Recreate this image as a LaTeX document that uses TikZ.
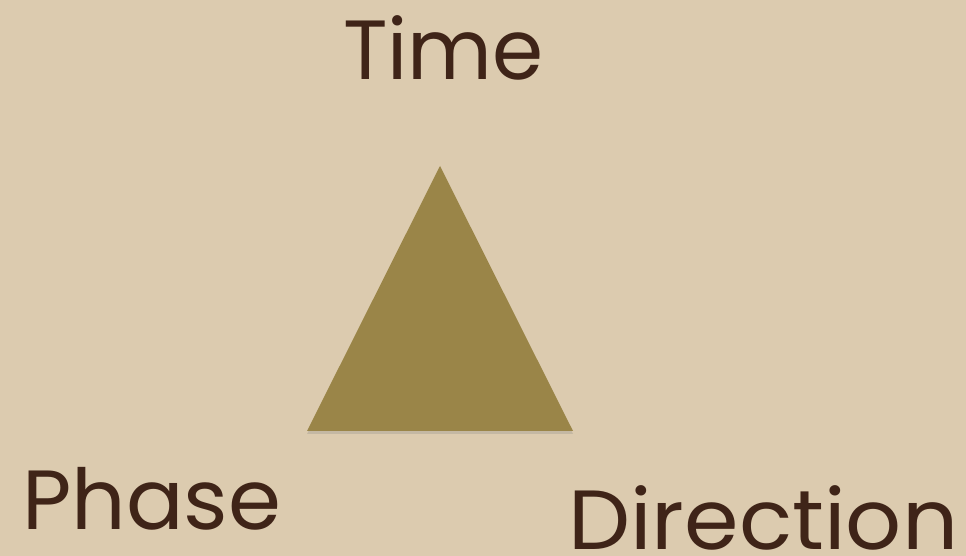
\documentclass[tikz,border=0pt]{standalone}
\usepackage{fontspec}
\setmainfont{Poppins}
\usetikzlibrary{shadows}
\definecolor{parch}{HTML}{DCCBAF}
\definecolor{olive}{HTML}{9A8548}
\definecolor{ink}{HTML}{3F2418}
\tikzset{label text/.style={text=ink, font=\fontsize{84}{94}\selectfont, inner sep=0pt}}
\begin{document}
\begin{tikzpicture}[x=1pt,y=1pt]
\fill[parch] (0,0) rectangle (966,556);
\useasboundingbox (0,0) rectangle (966,556);
\coordinate (top) at (440,390);
\coordinate (bl) at (307,125);
\coordinate (br) at (573,125);
\fill[olive, drop shadow={shadow xshift=0pt, shadow yshift=-3pt, opacity=0.25}] (top) -- (br) -- (bl) -- cycle;
\node[label text, anchor=base west, xscale=0.98] (time) at (343,476) {Time};
\node[label text, anchor=base west, xscale=1.015] (phase) at (22,26) {Phase};
\node[label text, anchor=base west, xscale=1.045] (dir) at (568,6) {Direction};
\end{tikzpicture}
\end{document}
